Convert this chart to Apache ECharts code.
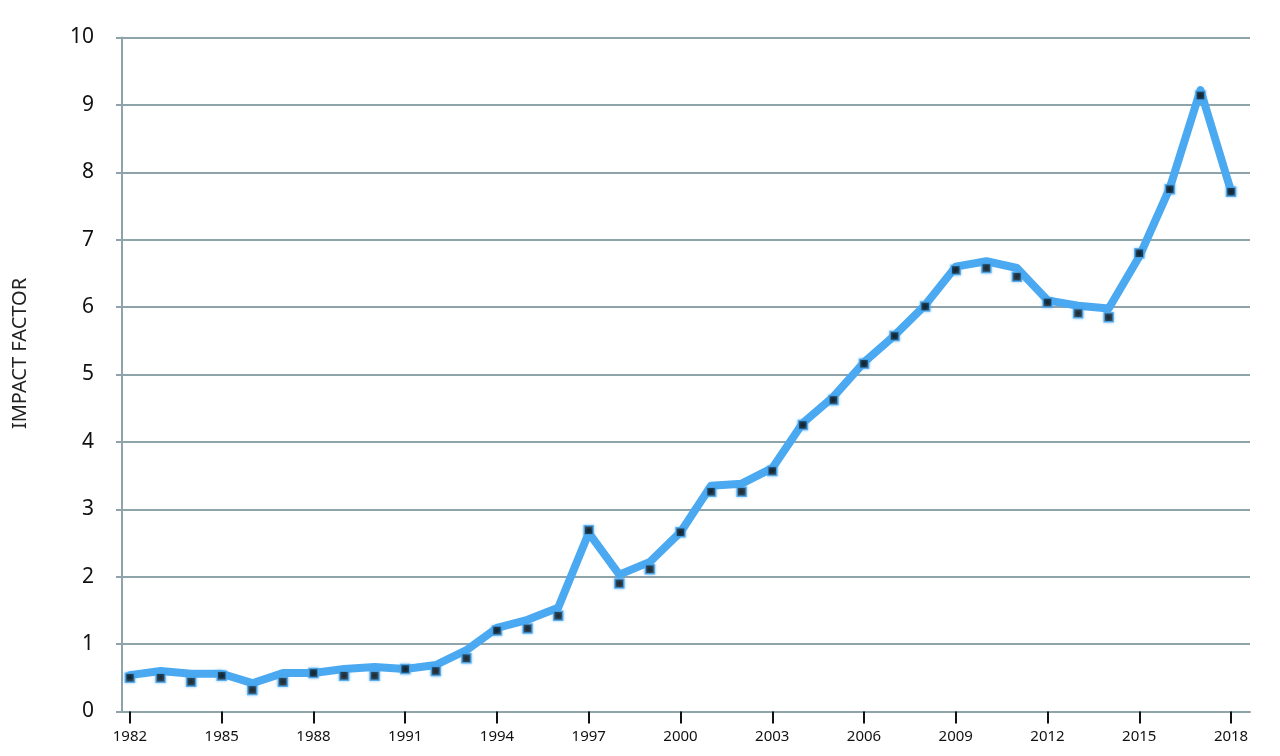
<!DOCTYPE html>
<html>
<head>
<meta charset="utf-8">
<script src="https://cdn.jsdelivr.net/npm/echarts@6/dist/echarts.min.js"></script>
<style>
html,body{margin:0;padding:0;background:#fff;}
#chart{width:1280px;height:756px;}
</style>
</head>
<body>
<div id="chart"></div>
<script>
// Data
var years = [1982,1983,1984,1985,1986,1987,1988,1989,1990,1991,1992,1993,1994,1995,1996,1997,1998,1999,2000,2001,2002,2003,2004,2005,2006,2007,2008,2009,2010,2011,2012,2013,2014,2015,2016,2017,2018];
// values of the plotted line
var lineValues = [0.54,0.60,0.56,0.56,0.42,0.57,0.57,0.63,0.66,0.63,0.69,0.91,1.24,1.36,1.54,2.65,2.03,2.22,2.66,3.35,3.38,3.61,4.28,4.67,5.18,5.58,6.03,6.60,6.68,6.58,6.10,6.02,5.98,6.75,7.77,9.22,7.72];
// values of the square markers
var markerValues = [0.50,0.50,0.44,0.53,0.32,0.44,0.57,0.53,0.53,0.63,0.60,0.79,1.20,1.23,1.42,2.69,1.90,2.11,2.66,3.26,3.26,3.57,4.25,4.62,5.16,5.57,6.01,6.55,6.58,6.45,6.07,5.91,5.85,6.80,7.75,9.14,7.71];
var xTickYears = [1982,1985,1988,1991,1994,1997,2000,2003,2006,2009,2012,2015,2018];
var yAxisTitle = 'IMPACT FACTOR';

var gridColor = '#8fa3ab';
var blue = '#4aa9f1';

var chart = echarts.init(document.getElementById('chart'));
chart.setOption({
  animation: false,
  backgroundColor: '#fff',
  grid: { left: 122, right: 30, top: 37.5, bottom: 44.5, containLabel: false },
  xAxis: {
    type: 'value',
    min: 1981.74,
    max: 2018.62,
    axisLine: { show: true, lineStyle: { color: gridColor, width: 2 } },
    axisTick: { show: true, customValues: xTickYears, length: 12, lineStyle: { color: '#111', width: 2 } },
    axisLabel: { show: true, customValues: xTickYears, margin: 18, color: '#111', fontSize: 15, fontFamily: 'Noto Sans', formatter: function (v) { return String(v); } },
    splitLine: { show: false }
  },
  yAxis: {
    type: 'value',
    min: 0,
    max: 10,
    interval: 1,
    name: yAxisTitle,
    nameLocation: 'middle',
    nameGap: 92,
    nameRotate: 90,
    nameTextStyle: { color: '#222', fontSize: 20, fontFamily: 'Noto Sans', padding: [0, 0, 0, 42] },
    axisLine: { show: true, lineStyle: { color: gridColor, width: 2 } },
    axisTick: { show: true, length: 6, lineStyle: { color: gridColor, width: 2 } },
    axisLabel: { margin: 28, color: '#111', fontSize: 21, fontFamily: 'Noto Sans' },
    splitLine: { show: true, lineStyle: { color: gridColor, width: 2 } }
  },
  series: [
    {
      type: 'line',
      data: years.map(function (y, i) { return [y, lineValues[i]]; }),
      showSymbol: false,
      lineStyle: { color: blue, width: 8, join: 'round', cap: 'round' },
      z: 2
    },
    {
      type: 'scatter',
      data: years.map(function (y, i) { return [y, markerValues[i]]; }),
      symbol: 'rect',
      symbolSize: 9,
      itemStyle: { color: '#050505', borderColor: blue, borderWidth: 1.5, shadowBlur: 3, shadowColor: 'rgba(74,169,241,0.8)' },
      z: 3
    }
  ]
});
</script>
</body>
</html>
